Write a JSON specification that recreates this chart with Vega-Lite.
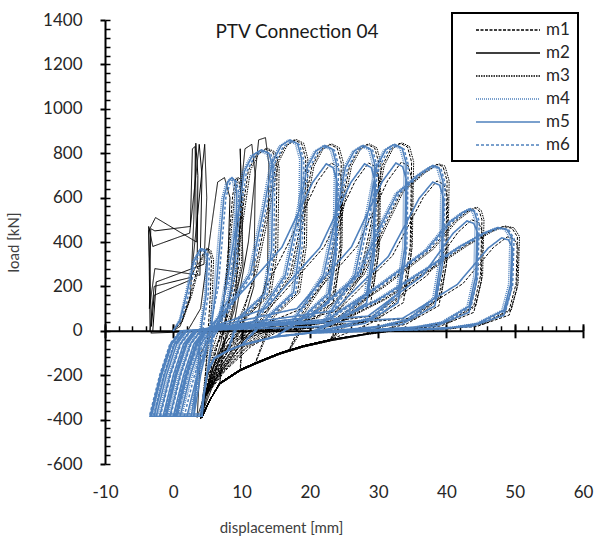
{
"$schema":"https://vega.github.io/schema/vega-lite/v6.json",
"width":478,"height":444,
"autosize":{"type":"none"},
"padding":{"left":105,"top":20,"right":13,"bottom":73},
"config":{
 "font":"Lato",
 "view":{"stroke":null},
 "axis":{"grid":false,"domainColor":"black","tickColor":"black","labelColor":"#262626","titleColor":"#404040","labelFont":"Lato","titleFont":"Lato","labelFontSize":17,"titleFontSize":15,"titleFontWeight":"normal","tickWidth":2,"domainWidth":2,"labelFlush":false,"labelOverlap":false,"zindex":1,"labelExpr":"'' + datum.value"},
 "legend":{"orient":"none","legendX":347,"legendY":-7,"strokeColor":"black","strokeWidth":2,"padding":8,"symbolType":"M-4,0H4","symbolSize":256,"symbolStrokeWidth":1.5,"symbolOffset":39,"labelOffset":29,"labelFontSize":17,"labelFont":"Lato","labelColor":"#262626","rowPadding":6}
},
"title":{"text":"PTV Connection 04","fontSize":19,"fontWeight":"normal","font":"Lato","color":"#1a1a1a","anchor":"middle","frame":"group","dx":-47,"offset":-46,"baseline":"alphabetic"},
"datasets":{
"m2":[{"x":0,"y":0},{"x":1,"y":20},{"x":2.5,"y":150},{"x":3,"y":500},{"x":3.3,"y":845},{"x":3.6,"y":700},{"x":3.5,"y":300},{"x":2.5,"y":240},{"x":-2.8,"y":200},{"x":-3.4,"y":0},{"x":-3.6,"y":470},{"x":-3,"y":380},{"x":2.4,"y":440},{"x":3.8,"y":840},{"x":4.2,"y":700},{"x":3.9,"y":250},{"x":-2.7,"y":280},{"x":-3.5,"y":100},{"x":-3.3,"y":460},{"x":-2.7,"y":450},{"x":2.5,"y":470},{"x":2.8,"y":820},{"x":3.2,"y":830},{"x":3.4,"y":400},{"x":-2.6,"y":510},{"x":-3.6,"y":450},{"x":-3.2,"y":20},{"x":-2.8,"y":160},{"x":2.6,"y":230},{"x":4.6,"y":840},{"x":4.9,"y":600},{"x":4.5,"y":300},{"x":-2.5,"y":220},{"x":-3,"y":0},{"x":-3.3,"y":-10},{"x":2,"y":-5},{"x":4,"y":100},{"x":5.5,"y":450},{"x":6.5,"y":670},{"x":7.5,"y":690},{"x":8.3,"y":600},{"x":8,"y":300},{"x":7,"y":50},{"x":4,"y":-100},{"x":3.5,"y":-390},{"x":5,"y":-250},{"x":7,"y":-50},{"x":8.5,"y":200},{"x":10.5,"y":820},{"x":11.5,"y":840},{"x":12,"y":700},{"x":11.8,"y":200},{"x":10,"y":10},{"x":5,"y":-200},{"x":4,"y":-390},{"x":6,"y":-150},{"x":9,"y":50},{"x":11,"y":400},{"x":12.5,"y":860},{"x":13.5,"y":870},{"x":14,"y":750},{"x":13.8,"y":250},{"x":12,"y":30},{"x":6,"y":-230},{"x":4,"y":-390},{"x":7,"y":-100},{"x":9,"y":100},{"x":10,"y":600},{"x":9.8,"y":820},{"x":10.2,"y":300},{"x":8,"y":0}],
"m1":[{"x":0,"y":0},{"x":1.2,"y":40},{"x":2.5,"y":160},{"x":3.7,"y":300},{"x":4.7,"y":370},{"x":5.3,"y":360},{"x":5.6,"y":320},{"x":5.4,"y":150},{"x":5,"y":-50},{"x":4.6,"y":-250},{"x":4.2,"y":-390},
{"x":4.6,"y":-300},{"x":5.5,"y":-180},{"x":6.5,"y":-60},{"x":7,"y":0},{"x":7.6,"y":200},{"x":8.2,"y":420},{"x":8.7,"y":610},{"x":9.2,"y":690},{"x":9.6,"y":676},{"x":9.9,"y":620},{"x":9.7,"y":310},{"x":8.7,"y":140},{"x":7.5,"y":20},{"x":6.8,"y":-235},{"x":5.4,"y":-310},{"x":4.2,"y":-390},
{"x":4.6,"y":-300},{"x":5.5,"y":-170},{"x":6.5,"y":-60},{"x":7.5,"y":0},{"x":8.7,"y":246},{"x":10.1,"y":533},{"x":11,"y":722},{"x":12.2,"y":795},{"x":13.5,"y":820},{"x":14.6,"y":804},{"x":15.2,"y":738},{"x":15,"y":370},{"x":14,"y":165},{"x":10.2,"y":57},{"x":9.8,"y":-175},{"x":6.8,"y":-235},{"x":5.4,"y":-310},{"x":4.2,"y":-390},
{"x":4.6,"y":-300},{"x":6,"y":-180},{"x":7.8,"y":-70},{"x":9.5,"y":0},{"x":11.9,"y":258},{"x":13.9,"y":559},{"x":15.1,"y":757},{"x":16.4,"y":834},{"x":17.7,"y":860},{"x":18.8,"y":843},{"x":19.4,"y":774},{"x":19.2,"y":387},{"x":18.2,"y":172},{"x":14.4,"y":60},{"x":12,"y":-145},{"x":9.8,"y":-175},{"x":6.8,"y":-235},{"x":5.4,"y":-310},{"x":4.2,"y":-390},
{"x":4.6,"y":-300},{"x":6.2,"y":-180},{"x":8.4,"y":-70},{"x":10.5,"y":0},{"x":12.6,"y":42},{"x":17.1,"y":252},{"x":19.1,"y":546},{"x":20.3,"y":739},{"x":21.6,"y":815},{"x":22.9,"y":840},{"x":24,"y":823},{"x":24.6,"y":756},{"x":24.4,"y":378},{"x":23.4,"y":168},{"x":19.6,"y":59},{"x":17,"y":-85},{"x":15.6,"y":-100},{"x":12,"y":-145},{"x":9.8,"y":-175},{"x":6.8,"y":-235},{"x":5.4,"y":-310},{"x":4.2,"y":-390},
{"x":4.6,"y":-300},{"x":6,"y":-150},{"x":7.5,"y":-40},{"x":9,"y":0},{"x":12,"y":101},{"x":16.6,"y":378},{"x":21.1,"y":672},{"x":23.1,"y":756},{"x":24.1,"y":739},{"x":24.7,"y":672},{"x":24.5,"y":336},{"x":23.4,"y":126},{"x":18.6,"y":34},{"x":17,"y":-85},{"x":15.6,"y":-100},{"x":12,"y":-145},{"x":9.8,"y":-175},{"x":6.8,"y":-235},{"x":5.4,"y":-310},{"x":4.2,"y":-390},
{"x":4.6,"y":-300},{"x":6.5,"y":-180},{"x":9,"y":-70},{"x":11.5,"y":0},{"x":18.1,"y":42},{"x":22.6,"y":252},{"x":24.6,"y":546},{"x":25.8,"y":739},{"x":27.1,"y":815},{"x":28.4,"y":840},{"x":29.5,"y":823},{"x":30.1,"y":756},{"x":29.9,"y":378},{"x":28.9,"y":168},{"x":25.1,"y":59},{"x":23,"y":-40},{"x":19,"y":-68},{"x":15.6,"y":-100},{"x":12,"y":-145},{"x":9.8,"y":-175},{"x":6.8,"y":-235},{"x":5.4,"y":-310},{"x":4.2,"y":-390},
{"x":4.6,"y":-300},{"x":6.3,"y":-150},{"x":8,"y":-40},{"x":10,"y":0},{"x":14.1,"y":101},{"x":22.1,"y":378},{"x":26.6,"y":672},{"x":28.6,"y":756},{"x":29.6,"y":739},{"x":30.2,"y":672},{"x":30,"y":336},{"x":28.9,"y":126},{"x":24.1,"y":34},{"x":23,"y":-40},{"x":19,"y":-68},{"x":15.6,"y":-100},{"x":12,"y":-145},{"x":9.8,"y":-175},{"x":6.8,"y":-235},{"x":5.4,"y":-310},{"x":4.2,"y":-390},
{"x":4.6,"y":-300},{"x":6.8,"y":-180},{"x":9.6,"y":-70},{"x":12.5,"y":0},{"x":22.9,"y":42},{"x":27.4,"y":254},{"x":29.4,"y":549},{"x":30.6,"y":744},{"x":31.9,"y":820},{"x":33.2,"y":845},{"x":34.3,"y":828},{"x":34.9,"y":760},{"x":34.7,"y":380},{"x":33.7,"y":169},{"x":29.9,"y":59},{"x":24.9,"y":17},{"x":23,"y":-40},{"x":19,"y":-68},{"x":15.6,"y":-100},{"x":12,"y":-145},{"x":9.8,"y":-175},{"x":6.8,"y":-235},{"x":5.4,"y":-310},{"x":4.2,"y":-390},
{"x":4.6,"y":-300},{"x":6.6,"y":-150},{"x":8.5,"y":-40},{"x":11,"y":0},{"x":18.9,"y":101},{"x":26.9,"y":380},{"x":31.4,"y":676},{"x":33.4,"y":760},{"x":34.4,"y":744},{"x":35,"y":676},{"x":34.8,"y":338},{"x":33.7,"y":127},{"x":28.9,"y":34},{"x":23,"y":-40},{"x":19,"y":-68},{"x":15.6,"y":-100},{"x":12,"y":-145},{"x":9.8,"y":-175},{"x":6.8,"y":-235},{"x":5.4,"y":-310},{"x":4.2,"y":-390},
{"x":4.6,"y":-300},{"x":7,"y":-180},{"x":10.2,"y":-70},{"x":13.5,"y":0},{"x":21,"y":60},{"x":27.6,"y":250},{"x":31.1,"y":480},{"x":33.4,"y":625},{"x":36.6,"y":710},{"x":38.6,"y":750},{"x":39.5,"y":740},{"x":40.1,"y":675},{"x":39.9,"y":338},{"x":38.9,"y":150},{"x":35.1,"y":53},{"x":30.1,"y":15},{"x":28,"y":-15},{"x":23,"y":-40},{"x":19,"y":-68},{"x":15.6,"y":-100},{"x":12,"y":-145},{"x":9.8,"y":-175},{"x":6.8,"y":-235},{"x":5.4,"y":-310},{"x":4.2,"y":-390},
{"x":4.6,"y":-300},{"x":6.9,"y":-150},{"x":9,"y":-40},{"x":12,"y":0},{"x":24.1,"y":90},{"x":32.1,"y":338},{"x":36.6,"y":600},{"x":38.6,"y":675},{"x":39.6,"y":660},{"x":40.2,"y":600},{"x":40,"y":300},{"x":38.9,"y":113},{"x":34.1,"y":30},{"x":28,"y":-15},{"x":23,"y":-40},{"x":19,"y":-68},{"x":15.6,"y":-100},{"x":12,"y":-145},{"x":9.8,"y":-175},{"x":6.8,"y":-235},{"x":5.4,"y":-310},{"x":4.2,"y":-390},
{"x":4.6,"y":-300},{"x":7.3,"y":-180},{"x":10.8,"y":-70},{"x":14.5,"y":0},{"x":23,"y":40},{"x":30.7,"y":200},{"x":37.8,"y":368},{"x":41.2,"y":493},{"x":43.2,"y":540},{"x":44.2,"y":555},{"x":44.8,"y":540},{"x":45.2,"y":500},{"x":45,"y":250},{"x":44,"y":111},{"x":40.2,"y":39},{"x":35.2,"y":11},{"x":32,"y":0},{"x":28,"y":-15},{"x":23,"y":-40},{"x":19,"y":-68},{"x":15.6,"y":-100},{"x":12,"y":-145},{"x":9.8,"y":-175},{"x":6.8,"y":-235},{"x":5.4,"y":-310},{"x":4.2,"y":-390},
{"x":4.6,"y":-300},{"x":7.2,"y":-150},{"x":9.5,"y":-40},{"x":13,"y":0},{"x":29.2,"y":67},{"x":37.2,"y":250},{"x":41.7,"y":444},{"x":43.7,"y":500},{"x":44.7,"y":488},{"x":45.3,"y":444},{"x":45.1,"y":222},{"x":44,"y":83},{"x":39.2,"y":22},{"x":32,"y":0},{"x":28,"y":-15},{"x":23,"y":-40},{"x":19,"y":-68},{"x":15.6,"y":-100},{"x":12,"y":-145},{"x":9.8,"y":-175},{"x":6.8,"y":-235},{"x":5.4,"y":-310},{"x":4.2,"y":-390},
{"x":4.6,"y":-300},{"x":7.6,"y":-180},{"x":11.4,"y":-70},{"x":15.5,"y":0},{"x":23,"y":20},{"x":30.8,"y":142},{"x":38.4,"y":293},{"x":42.8,"y":384},{"x":46.3,"y":445},{"x":48.3,"y":470},{"x":49.6,"y":462},{"x":50.4,"y":423},{"x":50.2,"y":212},{"x":49.2,"y":94},{"x":45.4,"y":33},{"x":40.4,"y":9},{"x":32,"y":0},{"x":28,"y":-15},{"x":23,"y":-40},{"x":19,"y":-68},{"x":15.6,"y":-100},{"x":12,"y":-145},{"x":9.8,"y":-175},{"x":6.8,"y":-235},{"x":5.4,"y":-310},{"x":4.2,"y":-390},
{"x":4.6,"y":-300},{"x":7.5,"y":-150},{"x":10,"y":-40},{"x":14,"y":0},{"x":34.4,"y":56},{"x":42.4,"y":212},{"x":46.9,"y":376},{"x":48.9,"y":423},{"x":49.9,"y":414},{"x":50.5,"y":376},{"x":50.3,"y":188},{"x":49.2,"y":71},{"x":44.4,"y":19},{"x":32,"y":0},{"x":28,"y":-15},{"x":23,"y":-40},{"x":19,"y":-68},{"x":15.6,"y":-100},{"x":12,"y":-145},{"x":9.8,"y":-175},{"x":6.8,"y":-235},{"x":5.4,"y":-310},{"x":4.2,"y":-390}],
"m3":[{"x":0,"y":0},{"x":1.3,"y":40},{"x":2.7,"y":160},{"x":3.9,"y":300},{"x":4.9,"y":372},{"x":5.5,"y":362},{"x":5.9,"y":320},{"x":5.7,"y":150},{"x":5.2,"y":-50},{"x":4.5,"y":-250},{"x":4,"y":-395},
{"x":4.3,"y":-300},{"x":5,"y":-190},{"x":5.8,"y":-80},{"x":6.6,"y":0},{"x":7.8,"y":200},{"x":8.4,"y":420},{"x":9,"y":612},{"x":9.5,"y":692},{"x":9.9,"y":678},{"x":10.2,"y":620},{"x":10,"y":310},{"x":9,"y":140},{"x":7.8,"y":20},{"x":6.8,"y":-240},{"x":5.3,"y":-315},{"x":4,"y":-395},
{"x":4.4,"y":-300},{"x":5.2,"y":-180},{"x":6.2,"y":-70},{"x":7.3,"y":0},{"x":9,"y":246},{"x":10.4,"y":534},{"x":11.3,"y":723},{"x":12.5,"y":797},{"x":13.8,"y":822},{"x":14.9,"y":806},{"x":15.5,"y":738},{"x":15.3,"y":370},{"x":14.3,"y":165},{"x":10.5,"y":57},{"x":9.8,"y":-180},{"x":6.8,"y":-240},{"x":5.3,"y":-315},{"x":4,"y":-395},
{"x":4.5,"y":-300},{"x":5.6,"y":-185},{"x":7.2,"y":-75},{"x":9,"y":0},{"x":12.2,"y":259},{"x":14.2,"y":560},{"x":15.4,"y":759},{"x":16.7,"y":836},{"x":18,"y":862},{"x":19.1,"y":845},{"x":19.7,"y":776},{"x":19.5,"y":387},{"x":18.5,"y":172},{"x":14.7,"y":60},{"x":12,"y":-150},{"x":9.8,"y":-180},{"x":6.8,"y":-240},{"x":5.3,"y":-315},{"x":4,"y":-395},
{"x":4.5,"y":-300},{"x":5.9,"y":-185},{"x":7.8,"y":-75},{"x":10,"y":0},{"x":12.9,"y":42},{"x":17.4,"y":253},{"x":19.4,"y":547},{"x":20.6,"y":741},{"x":21.9,"y":817},{"x":23.2,"y":842},{"x":24.3,"y":825},{"x":24.9,"y":758},{"x":24.7,"y":378},{"x":23.7,"y":168},{"x":19.9,"y":59},{"x":17,"y":-90},{"x":15.6,"y":-105},{"x":12,"y":-150},{"x":9.8,"y":-180},{"x":6.8,"y":-240},{"x":5.3,"y":-315},{"x":4,"y":-395},
{"x":4.5,"y":-300},{"x":6.2,"y":-185},{"x":8.4,"y":-75},{"x":11,"y":0},{"x":18.4,"y":42},{"x":22.9,"y":253},{"x":24.9,"y":547},{"x":26.1,"y":741},{"x":27.4,"y":817},{"x":28.7,"y":842},{"x":29.8,"y":825},{"x":30.4,"y":758},{"x":30.2,"y":378},{"x":29.2,"y":168},{"x":25.4,"y":59},{"x":23,"y":-45},{"x":19,"y":-73},{"x":15.6,"y":-105},{"x":12,"y":-150},{"x":9.8,"y":-180},{"x":6.8,"y":-240},{"x":5.3,"y":-315},{"x":4,"y":-395},
{"x":4.5,"y":-300},{"x":6.5,"y":-185},{"x":9,"y":-75},{"x":12,"y":0},{"x":23.2,"y":42},{"x":27.7,"y":254},{"x":29.7,"y":551},{"x":30.9,"y":745},{"x":32.2,"y":822},{"x":33.5,"y":847},{"x":34.6,"y":830},{"x":35.2,"y":762},{"x":35,"y":380},{"x":34,"y":169},{"x":30.2,"y":59},{"x":25.2,"y":17},{"x":23,"y":-45},{"x":19,"y":-73},{"x":15.6,"y":-105},{"x":12,"y":-150},{"x":9.8,"y":-180},{"x":6.8,"y":-240},{"x":5.3,"y":-315},{"x":4,"y":-395},
{"x":4.5,"y":-300},{"x":6.8,"y":-185},{"x":9.6,"y":-75},{"x":13,"y":0},{"x":21.3,"y":60},{"x":27.9,"y":250},{"x":31.4,"y":482},{"x":33.7,"y":627},{"x":36.9,"y":712},{"x":38.9,"y":752},{"x":39.8,"y":742},{"x":40.4,"y":675},{"x":40.2,"y":338},{"x":39.2,"y":150},{"x":35.4,"y":53},{"x":30.4,"y":15},{"x":28,"y":-18},{"x":23,"y":-45},{"x":19,"y":-73},{"x":15.6,"y":-105},{"x":12,"y":-150},{"x":9.8,"y":-180},{"x":6.8,"y":-240},{"x":5.3,"y":-315},{"x":4,"y":-395},
{"x":4.5,"y":-300},{"x":7,"y":-185},{"x":10.2,"y":-75},{"x":14,"y":0},{"x":23.3,"y":40},{"x":31,"y":200},{"x":38.1,"y":368},{"x":41.5,"y":493},{"x":43.5,"y":540},{"x":44.5,"y":557},{"x":45.1,"y":542},{"x":45.5,"y":500},{"x":45.3,"y":250},{"x":44.3,"y":111},{"x":40.5,"y":39},{"x":35.5,"y":11},{"x":32.3,"y":0},{"x":28,"y":-18},{"x":23,"y":-45},{"x":19,"y":-73},{"x":15.6,"y":-105},{"x":12,"y":-150},{"x":9.8,"y":-180},{"x":6.8,"y":-240},{"x":5.3,"y":-315},{"x":4,"y":-395},
{"x":4.5,"y":-300},{"x":7.3,"y":-185},{"x":10.8,"y":-75},{"x":15,"y":0},{"x":23.3,"y":20},{"x":31.1,"y":142},{"x":38.7,"y":293},{"x":43.1,"y":384},{"x":46.6,"y":445},{"x":48.6,"y":472},{"x":49.9,"y":464},{"x":50.7,"y":425},{"x":50.5,"y":212},{"x":49.5,"y":94},{"x":45.7,"y":33},{"x":40.7,"y":9},{"x":32.3,"y":0},{"x":28,"y":-18},{"x":23,"y":-45},{"x":19,"y":-73},{"x":15.6,"y":-105},{"x":12,"y":-150},{"x":9.8,"y":-180},{"x":6.8,"y":-240},{"x":5.3,"y":-315},{"x":4,"y":-395}],
"m4":[{"x":0,"y":0},{"x":0.9,"y":50},{"x":1.8,"y":170},{"x":2.8,"y":310},{"x":3.8,"y":365},{"x":4.4,"y":360},{"x":4.8,"y":325},{"x":4.6,"y":160},{"x":4,"y":40},{"x":3.6,"y":-100},{"x":3.1,"y":-260},{"x":2.8,"y":-375},
{"x":3.8,"y":-200},{"x":4.8,"y":-60},{"x":5.3,"y":0},{"x":6,"y":200},{"x":6.6,"y":420},{"x":7.1,"y":595},{"x":7.7,"y":665},{"x":8.3,"y":685},{"x":8.7,"y":670},{"x":9,"y":615},{"x":8.8,"y":305},{"x":7.8,"y":138},{"x":5.8,"y":30},{"x":5,"y":-180},{"x":4.4,"y":-290},{"x":4,"y":-375},{"x":2.3,"y":-375},
{"x":3.8,"y":-200},{"x":5.3,"y":-60},{"x":6.3,"y":0},{"x":7.7,"y":244},{"x":9.2,"y":527},{"x":10.1,"y":713},{"x":11.3,"y":787},{"x":12.6,"y":810},{"x":13.7,"y":795},{"x":14.3,"y":730},{"x":14.1,"y":362},{"x":13.1,"y":163},{"x":9.3,"y":56},{"x":8,"y":-88},{"x":6,"y":-122},{"x":5,"y":-180},{"x":4.4,"y":-290},{"x":4,"y":-375},{"x":1.3,"y":-375},
{"x":2.8,"y":-200},{"x":4.3,"y":-60},{"x":5.8,"y":0},{"x":6.5,"y":43},{"x":11,"y":257},{"x":13,"y":557},{"x":14.2,"y":755},{"x":15.5,"y":832},{"x":16.8,"y":858},{"x":17.9,"y":840},{"x":18.5,"y":772},{"x":18.3,"y":385},{"x":17.3,"y":170},{"x":13.5,"y":60},{"x":10,"y":-63},{"x":8,"y":-88},{"x":6,"y":-122},{"x":5,"y":-180},{"x":4.4,"y":-290},{"x":4,"y":-375},{"x":0.8,"y":-375},
{"x":2.3,"y":-200},{"x":3.8,"y":-60},{"x":5.3,"y":0},{"x":11.6,"y":42},{"x":16.1,"y":250},{"x":18.1,"y":541},{"x":19.3,"y":732},{"x":20.6,"y":807},{"x":21.9,"y":832},{"x":23,"y":815},{"x":23.6,"y":748},{"x":23.4,"y":372},{"x":22.4,"y":166},{"x":18.6,"y":58},{"x":15,"y":-25},{"x":10,"y":-63},{"x":8,"y":-88},{"x":6,"y":-122},{"x":5,"y":-180},{"x":4.4,"y":-290},{"x":4,"y":-375},{"x":0.3,"y":-375},
{"x":1.8,"y":-200},{"x":3.3,"y":-60},{"x":4.8,"y":0},{"x":17.2,"y":42},{"x":21.7,"y":250},{"x":23.7,"y":541},{"x":24.9,"y":732},{"x":26.2,"y":807},{"x":27.5,"y":832},{"x":28.6,"y":815},{"x":29.2,"y":748},{"x":29,"y":372},{"x":28,"y":166},{"x":24.2,"y":58},{"x":20,"y":-8},{"x":15,"y":-25},{"x":10,"y":-63},{"x":8,"y":-88},{"x":6,"y":-122},{"x":5,"y":-180},{"x":4.4,"y":-290},{"x":4,"y":-375},{"x":-0.7,"y":-375},
{"x":0.8,"y":-200},{"x":2.3,"y":-60},{"x":3.8,"y":0},{"x":21.8,"y":42},{"x":26.3,"y":251},{"x":28.3,"y":545},{"x":29.5,"y":737},{"x":30.8,"y":813},{"x":32.1,"y":838},{"x":33.2,"y":820},{"x":33.8,"y":752},{"x":33.6,"y":376},{"x":32.6,"y":167},{"x":28.8,"y":59},{"x":23.8,"y":17},{"x":20,"y":-8},{"x":15,"y":-25},{"x":10,"y":-63},{"x":8,"y":-88},{"x":6,"y":-122},{"x":5,"y":-180},{"x":4.4,"y":-290},{"x":4,"y":-375},{"x":-1.2,"y":-375},
{"x":0.3,"y":-200},{"x":1.8,"y":-60},{"x":3.3,"y":0},{"x":19.7,"y":60},{"x":26.7,"y":250},{"x":30.2,"y":478},{"x":32.5,"y":618},{"x":35.7,"y":702},{"x":37.7,"y":742},{"x":38.6,"y":732},{"x":39.2,"y":668},{"x":39,"y":333},{"x":38,"y":148},{"x":34.2,"y":52},{"x":29.2,"y":15},{"x":20,"y":-8},{"x":15,"y":-25},{"x":10,"y":-63},{"x":8,"y":-88},{"x":6,"y":-122},{"x":5,"y":-180},{"x":4.4,"y":-290},{"x":4,"y":-375},{"x":-2.2,"y":-375},
{"x":-0.7,"y":-200},{"x":0.8,"y":-60},{"x":2.3,"y":0},{"x":21.7,"y":40},{"x":29.7,"y":200},{"x":36.8,"y":363},{"x":40.2,"y":488},{"x":42.2,"y":533},{"x":43.2,"y":548},{"x":43.8,"y":533},{"x":44.2,"y":493},{"x":44,"y":246},{"x":43,"y":109},{"x":39.2,"y":39},{"x":34.2,"y":11},{"x":20,"y":-8},{"x":15,"y":-25},{"x":10,"y":-63},{"x":8,"y":-88},{"x":6,"y":-122},{"x":5,"y":-180},{"x":4.4,"y":-290},{"x":4,"y":-375},{"x":-2.9,"y":-375},
{"x":-1.4,"y":-200},{"x":0.1,"y":-60},{"x":1.6,"y":0},{"x":21.7,"y":20},{"x":29.7,"y":140},{"x":37.3,"y":288},{"x":41.7,"y":378},{"x":45.2,"y":438},{"x":47.2,"y":463},{"x":48.5,"y":456},{"x":49.3,"y":417},{"x":49.1,"y":208},{"x":48.1,"y":92},{"x":44.3,"y":33},{"x":39.3,"y":9},{"x":30,"y":0},{"x":20,"y":-8},{"x":15,"y":-25},{"x":10,"y":-63},{"x":8,"y":-88},{"x":6,"y":-122},{"x":5,"y":-180},{"x":4.4,"y":-290},{"x":4,"y":-375}],
"m6":[{"x":0,"y":0},{"x":1.2,"y":50},{"x":2.3,"y":170},{"x":3.3,"y":310},{"x":4.3,"y":370},{"x":4.9,"y":360},{"x":5.3,"y":320},{"x":5.1,"y":160},{"x":4.5,"y":40},{"x":4,"y":-100},{"x":3.4,"y":-260},{"x":2.6,"y":-385},
{"x":3.6,"y":-200},{"x":4.6,"y":-60},{"x":5.3,"y":0},{"x":6.6,"y":200},{"x":7.2,"y":420},{"x":7.7,"y":600},{"x":8.3,"y":665},{"x":8.9,"y":685},{"x":9.3,"y":670},{"x":9.6,"y":615},{"x":9.4,"y":300},{"x":8.4,"y":135},{"x":6.3,"y":30},{"x":5,"y":-185},{"x":4.5,"y":-290},{"x":4.2,"y":-385},{"x":1.6,"y":-385},
{"x":3.1,"y":-200},{"x":4.6,"y":-60},{"x":6.1,"y":0},{"x":8.3,"y":245},{"x":9.8,"y":527},{"x":10.7,"y":713},{"x":11.9,"y":786},{"x":13.2,"y":810},{"x":14.3,"y":795},{"x":14.9,"y":730},{"x":14.7,"y":360},{"x":13.7,"y":160},{"x":9.9,"y":55},{"x":8,"y":-90},{"x":6,"y":-125},{"x":5,"y":-185},{"x":4.5,"y":-290},{"x":4.2,"y":-385},{"x":0.6,"y":-385},
{"x":2.1,"y":-200},{"x":3.6,"y":-60},{"x":5.1,"y":0},{"x":7.1,"y":43},{"x":11.6,"y":258},{"x":13.6,"y":556},{"x":14.8,"y":752},{"x":16.1,"y":829},{"x":17.4,"y":855},{"x":18.5,"y":838},{"x":19.1,"y":770},{"x":18.9,"y":385},{"x":17.9,"y":170},{"x":14.1,"y":60},{"x":10,"y":-65},{"x":8,"y":-90},{"x":6,"y":-125},{"x":5,"y":-185},{"x":4.5,"y":-290},{"x":4.2,"y":-385},{"x":0.1,"y":-385},
{"x":1.6,"y":-200},{"x":3.1,"y":-60},{"x":4.6,"y":0},{"x":12.2,"y":42},{"x":16.7,"y":249},{"x":18.7,"y":540},{"x":19.9,"y":730},{"x":21.2,"y":805},{"x":22.5,"y":830},{"x":23.6,"y":813},{"x":24.2,"y":745},{"x":24,"y":372},{"x":23,"y":165},{"x":19.2,"y":58},{"x":15,"y":-27},{"x":10,"y":-65},{"x":8,"y":-90},{"x":6,"y":-125},{"x":5,"y":-185},{"x":4.5,"y":-290},{"x":4.2,"y":-385},{"x":-0.4,"y":-385},
{"x":1.1,"y":-200},{"x":2.6,"y":-60},{"x":4.1,"y":0},{"x":17.8,"y":42},{"x":22.3,"y":249},{"x":24.3,"y":540},{"x":25.5,"y":730},{"x":26.8,"y":805},{"x":28.1,"y":830},{"x":29.2,"y":813},{"x":29.8,"y":745},{"x":29.6,"y":372},{"x":28.6,"y":165},{"x":24.8,"y":58},{"x":20,"y":-10},{"x":15,"y":-27},{"x":10,"y":-65},{"x":8,"y":-90},{"x":6,"y":-125},{"x":5,"y":-185},{"x":4.5,"y":-290},{"x":4.2,"y":-385},{"x":-1.4,"y":-385},
{"x":0.1,"y":-200},{"x":1.6,"y":-60},{"x":3.1,"y":0},{"x":22.4,"y":42},{"x":26.9,"y":250},{"x":28.9,"y":543},{"x":30.1,"y":735},{"x":31.4,"y":810},{"x":32.7,"y":835},{"x":33.8,"y":818},{"x":34.4,"y":750},{"x":34.2,"y":375},{"x":33.2,"y":165},{"x":29.4,"y":59},{"x":24.4,"y":17},{"x":20,"y":-10},{"x":15,"y":-27},{"x":10,"y":-65},{"x":8,"y":-90},{"x":6,"y":-125},{"x":5,"y":-185},{"x":4.5,"y":-290},{"x":4.2,"y":-385},{"x":-1.9,"y":-385},
{"x":-0.4,"y":-200},{"x":1.1,"y":-60},{"x":2.6,"y":0},{"x":20.3,"y":60},{"x":27.3,"y":250},{"x":30.8,"y":480},{"x":33.1,"y":620},{"x":36.3,"y":705},{"x":38.3,"y":740},{"x":39.2,"y":730},{"x":39.8,"y":665},{"x":39.6,"y":330},{"x":38.6,"y":148},{"x":34.8,"y":52},{"x":29.8,"y":15},{"x":20,"y":-10},{"x":15,"y":-27},{"x":10,"y":-65},{"x":8,"y":-90},{"x":6,"y":-125},{"x":5,"y":-185},{"x":4.5,"y":-290},{"x":4.2,"y":-385},{"x":-2.9,"y":-385},
{"x":-1.4,"y":-200},{"x":0.1,"y":-60},{"x":1.6,"y":0},{"x":22.3,"y":40},{"x":30.3,"y":200},{"x":37.4,"y":365},{"x":40.8,"y":490},{"x":42.8,"y":535},{"x":43.8,"y":548},{"x":44.4,"y":533},{"x":44.8,"y":492},{"x":44.6,"y":245},{"x":43.6,"y":108},{"x":39.8,"y":38},{"x":34.8,"y":11},{"x":20,"y":-10},{"x":15,"y":-27},{"x":10,"y":-65},{"x":8,"y":-90},{"x":6,"y":-125},{"x":5,"y":-185},{"x":4.5,"y":-290},{"x":4.2,"y":-385},{"x":-3.5,"y":-385},
{"x":-2,"y":-200},{"x":-0.5,"y":-60},{"x":1,"y":0},{"x":22.3,"y":20},{"x":30.3,"y":140},{"x":37.9,"y":290},{"x":42.3,"y":380},{"x":45.8,"y":440},{"x":47.8,"y":462},{"x":49.1,"y":455},{"x":49.9,"y":415},{"x":49.7,"y":207},{"x":48.7,"y":92},{"x":44.9,"y":33},{"x":39.9,"y":9},{"x":30,"y":0},{"x":20,"y":-10},{"x":15,"y":-27},{"x":10,"y":-65},{"x":8,"y":-90},{"x":6,"y":-125},{"x":5,"y":-185},{"x":4.5,"y":-290},{"x":4.2,"y":-385}],
"m5":[{"x":0,"y":0},{"x":1,"y":50},{"x":2,"y":170},{"x":3,"y":310},{"x":4,"y":370},{"x":4.6,"y":365},{"x":5,"y":330},{"x":4.8,"y":160},{"x":4.2,"y":40},{"x":3.8,"y":-100},{"x":3.3,"y":-260},{"x":3,"y":-385},
{"x":4,"y":-200},{"x":5,"y":-60},{"x":5.5,"y":0},{"x":6.3,"y":200},{"x":6.9,"y":420},{"x":7.4,"y":600},{"x":8,"y":670},{"x":8.6,"y":690},{"x":9,"y":676},{"x":9.3,"y":620},{"x":9.1,"y":310},{"x":8.1,"y":140},{"x":6,"y":30},{"x":5,"y":-185},{"x":4.5,"y":-290},{"x":4.2,"y":-385},{"x":2,"y":-385},
{"x":3.5,"y":-200},{"x":5,"y":-60},{"x":6.5,"y":0},{"x":8,"y":245},{"x":9.5,"y":530},{"x":10.4,"y":717},{"x":11.6,"y":790},{"x":12.9,"y":815},{"x":14,"y":800},{"x":14.6,"y":735},{"x":14.4,"y":365},{"x":13.4,"y":165},{"x":9.6,"y":57},{"x":8,"y":-90},{"x":6,"y":-125},{"x":5,"y":-185},{"x":4.5,"y":-290},{"x":4.2,"y":-385},{"x":1,"y":-385},
{"x":2.5,"y":-200},{"x":4,"y":-60},{"x":5.5,"y":0},{"x":6.8,"y":43},{"x":11.3,"y":258},{"x":13.3,"y":559},{"x":14.5,"y":757},{"x":15.8,"y":834},{"x":17.1,"y":860},{"x":18.2,"y":843},{"x":18.8,"y":774},{"x":18.6,"y":387},{"x":17.6,"y":172},{"x":13.8,"y":60},{"x":10,"y":-65},{"x":8,"y":-90},{"x":6,"y":-125},{"x":5,"y":-185},{"x":4.5,"y":-290},{"x":4.2,"y":-385},{"x":0.5,"y":-385},
{"x":2,"y":-200},{"x":3.5,"y":-60},{"x":5,"y":0},{"x":11.9,"y":42},{"x":16.4,"y":250},{"x":18.4,"y":543},{"x":19.6,"y":735},{"x":20.9,"y":810},{"x":22.2,"y":835},{"x":23.3,"y":818},{"x":23.9,"y":750},{"x":23.7,"y":375},{"x":22.7,"y":167},{"x":18.9,"y":58},{"x":15,"y":-27},{"x":10,"y":-65},{"x":8,"y":-90},{"x":6,"y":-125},{"x":5,"y":-185},{"x":4.5,"y":-290},{"x":4.2,"y":-385},{"x":0.3,"y":-385},
{"x":1.8,"y":-200},{"x":3.3,"y":-60},{"x":4.8,"y":0},{"x":7.9,"y":100},{"x":15.9,"y":376},{"x":20.4,"y":668},{"x":22.4,"y":752},{"x":23.4,"y":735},{"x":24,"y":668},{"x":23.8,"y":334},{"x":22.7,"y":125},{"x":17.9,"y":33},{"x":15,"y":-27},{"x":10,"y":-65},{"x":8,"y":-90},{"x":6,"y":-125},{"x":5,"y":-185},{"x":4.5,"y":-290},{"x":4.2,"y":-385},{"x":0,"y":-385},
{"x":1.5,"y":-200},{"x":3,"y":-60},{"x":4.5,"y":0},{"x":17.5,"y":42},{"x":22,"y":250},{"x":24,"y":543},{"x":25.2,"y":735},{"x":26.5,"y":810},{"x":27.8,"y":835},{"x":28.9,"y":818},{"x":29.5,"y":750},{"x":29.3,"y":375},{"x":28.3,"y":167},{"x":24.5,"y":58},{"x":20,"y":-10},{"x":15,"y":-27},{"x":10,"y":-65},{"x":8,"y":-90},{"x":6,"y":-125},{"x":5,"y":-185},{"x":4.5,"y":-290},{"x":4.2,"y":-385},{"x":-0.5,"y":-385},
{"x":1,"y":-200},{"x":2.5,"y":-60},{"x":4,"y":0},{"x":13.5,"y":100},{"x":21.5,"y":376},{"x":26,"y":668},{"x":28,"y":752},{"x":29,"y":735},{"x":29.6,"y":668},{"x":29.4,"y":334},{"x":28.3,"y":125},{"x":23.5,"y":33},{"x":20,"y":-10},{"x":15,"y":-27},{"x":10,"y":-65},{"x":8,"y":-90},{"x":6,"y":-125},{"x":5,"y":-185},{"x":4.5,"y":-290},{"x":4.2,"y":-385},{"x":-1,"y":-385},
{"x":0.5,"y":-200},{"x":2,"y":-60},{"x":3.5,"y":0},{"x":22.1,"y":42},{"x":26.6,"y":252},{"x":28.6,"y":546},{"x":29.8,"y":739},{"x":31.1,"y":815},{"x":32.4,"y":840},{"x":33.5,"y":823},{"x":34.1,"y":756},{"x":33.9,"y":378},{"x":32.9,"y":168},{"x":29.1,"y":59},{"x":24.1,"y":17},{"x":20,"y":-10},{"x":15,"y":-27},{"x":10,"y":-65},{"x":8,"y":-90},{"x":6,"y":-125},{"x":5,"y":-185},{"x":4.5,"y":-290},{"x":4.2,"y":-385},{"x":-1.2,"y":-385},
{"x":0.3,"y":-200},{"x":1.8,"y":-60},{"x":3.3,"y":0},{"x":18.1,"y":100},{"x":26.1,"y":378},{"x":30.6,"y":672},{"x":32.6,"y":756},{"x":33.6,"y":739},{"x":34.2,"y":672},{"x":34,"y":336},{"x":32.9,"y":126},{"x":28.1,"y":34},{"x":20,"y":-10},{"x":15,"y":-27},{"x":10,"y":-65},{"x":8,"y":-90},{"x":6,"y":-125},{"x":5,"y":-185},{"x":4.5,"y":-290},{"x":4.2,"y":-385},{"x":-1.5,"y":-385},
{"x":0,"y":-200},{"x":1.5,"y":-60},{"x":3,"y":0},{"x":20,"y":60},{"x":27,"y":250},{"x":30.5,"y":480},{"x":32.8,"y":620},{"x":36,"y":705},{"x":38,"y":745},{"x":38.9,"y":735},{"x":39.5,"y":670},{"x":39.3,"y":335},{"x":38.3,"y":149},{"x":34.5,"y":52},{"x":29.5,"y":15},{"x":20,"y":-10},{"x":15,"y":-27},{"x":10,"y":-65},{"x":8,"y":-90},{"x":6,"y":-125},{"x":5,"y":-185},{"x":4.5,"y":-290},{"x":4.2,"y":-385},{"x":-2,"y":-385},
{"x":-0.5,"y":-200},{"x":1,"y":-60},{"x":2.5,"y":0},{"x":23.5,"y":90},{"x":31.5,"y":335},{"x":36,"y":596},{"x":38,"y":670},{"x":39,"y":656},{"x":39.6,"y":596},{"x":39.4,"y":298},{"x":38.3,"y":112},{"x":33.5,"y":30},{"x":20,"y":-10},{"x":15,"y":-27},{"x":10,"y":-65},{"x":8,"y":-90},{"x":6,"y":-125},{"x":5,"y":-185},{"x":4.5,"y":-290},{"x":4.2,"y":-385},{"x":-2.5,"y":-385},
{"x":-1,"y":-200},{"x":0.5,"y":-60},{"x":2,"y":0},{"x":22,"y":40},{"x":30,"y":200},{"x":37.1,"y":365},{"x":40.5,"y":490},{"x":42.5,"y":535},{"x":43.5,"y":550},{"x":44.1,"y":535},{"x":44.5,"y":495},{"x":44.3,"y":248},{"x":43.3,"y":110},{"x":39.5,"y":39},{"x":34.5,"y":11},{"x":20,"y":-10},{"x":15,"y":-27},{"x":10,"y":-65},{"x":8,"y":-90},{"x":6,"y":-125},{"x":5,"y":-185},{"x":4.5,"y":-290},{"x":4.2,"y":-385},{"x":-2.8,"y":-385},
{"x":-1.3,"y":-200},{"x":0.2,"y":-60},{"x":1.7,"y":0},{"x":28.5,"y":66},{"x":36.5,"y":248},{"x":41,"y":440},{"x":43,"y":495},{"x":44,"y":484},{"x":44.6,"y":440},{"x":44.4,"y":220},{"x":43.3,"y":83},{"x":38.5,"y":22},{"x":20,"y":-10},{"x":15,"y":-27},{"x":10,"y":-65},{"x":8,"y":-90},{"x":6,"y":-125},{"x":5,"y":-185},{"x":4.5,"y":-290},{"x":4.2,"y":-385},{"x":-3.2,"y":-385},
{"x":-1.7,"y":-200},{"x":-0.2,"y":-60},{"x":1.3,"y":0},{"x":22,"y":20},{"x":30,"y":140},{"x":37.6,"y":290},{"x":42,"y":380},{"x":45.5,"y":440},{"x":47.5,"y":465},{"x":48.8,"y":458},{"x":49.6,"y":419},{"x":49.4,"y":209},{"x":48.4,"y":93},{"x":44.6,"y":33},{"x":39.6,"y":9},{"x":30,"y":0},{"x":20,"y":-10},{"x":15,"y":-27},{"x":10,"y":-65},{"x":8,"y":-90},{"x":6,"y":-125},{"x":5,"y":-185},{"x":4.5,"y":-290},{"x":4.2,"y":-385},{"x":-3.4,"y":-385},
{"x":-1.9,"y":-200},{"x":-0.4,"y":-60},{"x":1.1,"y":0},{"x":33.6,"y":56},{"x":41.6,"y":209},{"x":46.1,"y":372},{"x":48.1,"y":419},{"x":49.1,"y":409},{"x":49.7,"y":372},{"x":49.5,"y":186},{"x":48.4,"y":70},{"x":43.6,"y":19},{"x":30,"y":0},{"x":20,"y":-10},{"x":15,"y":-27},{"x":10,"y":-65},{"x":8,"y":-90},{"x":6,"y":-125},{"x":5,"y":-185},{"x":4.5,"y":-290},{"x":4.2,"y":-385}]
},
"layer":[
 {"data":{"name":"m2"},"mark":{"type":"line","strokeWidth":1,"clip":true},
  "encoding":{
   "x":{"field":"x","type":"quantitative","scale":{"domain":[-10,60],"nice":false,"zero":false},
        "axis":{"orient":"bottom","values":[-10,0,10,20,30,40,50,60],"domain":false,"ticks":false,"tickSize":0,"labelPadding":20,"title":"displacement [mm]","titleX":176,"titleY":68,"titleAlign":"center","titleBaseline":"alphabetic"}},
   "y":{"field":"y","type":"quantitative","scale":{"domain":[-600,1400],"nice":false,"zero":false},
        "axis":{"orient":"left","values":[-600,-400,-200,0,200,400,600,800,1000,1200,1400],"tickSize":5,"labelPadding":18,"title":"load [kN]","titleX":-87,"titleBaseline":"alphabetic","titleAngle":270}},
   "order":{"value":null},
   "color":{"datum":"m2","scale":{"domain":["m1","m2","m3","m4","m5","m6"],"range":["#000000","#000000","#000000","#4f81bd","#4f81bd","#4f81bd"]},"legend":{"title":null}},
   "strokeDash":{"datum":"m2","scale":{"domain":["m1","m2","m3","m4","m5","m6"],"range":[[3,1.5],[1,0],[1.5,1],[1,1],[1,0],[3,2]]},"legend":{"title":null}}
  }},
 {"data":{"name":"m1"},"mark":{"type":"line","strokeWidth":1,"clip":true},
  "encoding":{
   "x":{"field":"x","type":"quantitative","axis":{"orient":"bottom","offset":-133.2,"values":[-10,0,10,20,30,40,50,60],"tickSize":7,"labels":false,"title":null,"domain":true}},
   "y":{"field":"y","type":"quantitative","axis":{"orient":"left","values":[-600,-560,-520,-480,-440,-400,-360,-320,-280,-240,-200,-160,-120,-80,-40,0,40,80,120,160,200,240,280,320,360,400,440,480,520,560,600,640,680,720,760,800,840,880,920,960,1000,1040,1080,1120,1160,1200,1240,1280,1320,1360,1400],"tickSize":-5,"tickWidth":1.5,"labels":false,"domain":false,"title":null}},
   "order":{"value":null},
   "color":{"datum":"m1"},"strokeDash":{"datum":"m1"}
  }},
 {"data":{"name":"m3"},"mark":{"type":"line","strokeWidth":1,"clip":true},
  "encoding":{
   "x":{"field":"x","type":"quantitative","axis":{"orient":"bottom","offset":-133.2,"values":[-10,-8,-6,-4,-2,0,2,4,6,8,10,12,14,16,18,20,22,24,26,28,30,32,34,36,38,40,42,44,46,48,50,52,54,56,58,60],"tickSize":-5,"tickWidth":1.5,"labels":false,"title":null,"domain":false}},
   "y":{"field":"y","type":"quantitative","axis":null},
   "order":{"value":null},
   "color":{"datum":"m3"},"strokeDash":{"datum":"m3"}
  }},
 {"data":{"name":"m4"},"mark":{"type":"line","strokeWidth":1.5,"clip":true},
  "encoding":{
   "x":{"field":"x","type":"quantitative","axis":{"orient":"bottom","offset":-133.2,"values":[-10,0,10,20,30,40,50,60],"tickSize":-7,"labels":false,"title":null,"domain":false}},
   "y":{"field":"y","type":"quantitative","axis":null},
   "order":{"value":null},
   "color":{"datum":"m4"},"strokeDash":{"datum":"m4"}
  }},
 {"data":{"name":"m6"},"mark":{"type":"line","strokeWidth":1.5,"clip":true},
  "encoding":{
   "x":{"field":"x","type":"quantitative","axis":null},
   "y":{"field":"y","type":"quantitative","axis":null},
   "order":{"value":null},
   "color":{"datum":"m6"},"strokeDash":{"datum":"m6"}
  }},
 {"data":{"name":"m5"},"mark":{"type":"line","strokeWidth":1.6,"clip":true},
  "encoding":{
   "x":{"field":"x","type":"quantitative","axis":null},
   "y":{"field":"y","type":"quantitative","axis":null},
   "order":{"value":null},
   "color":{"datum":"m5"},"strokeDash":{"datum":"m5"}
  }}
],
"resolve":{"axis":{"x":"independent","y":"independent"}}
}
